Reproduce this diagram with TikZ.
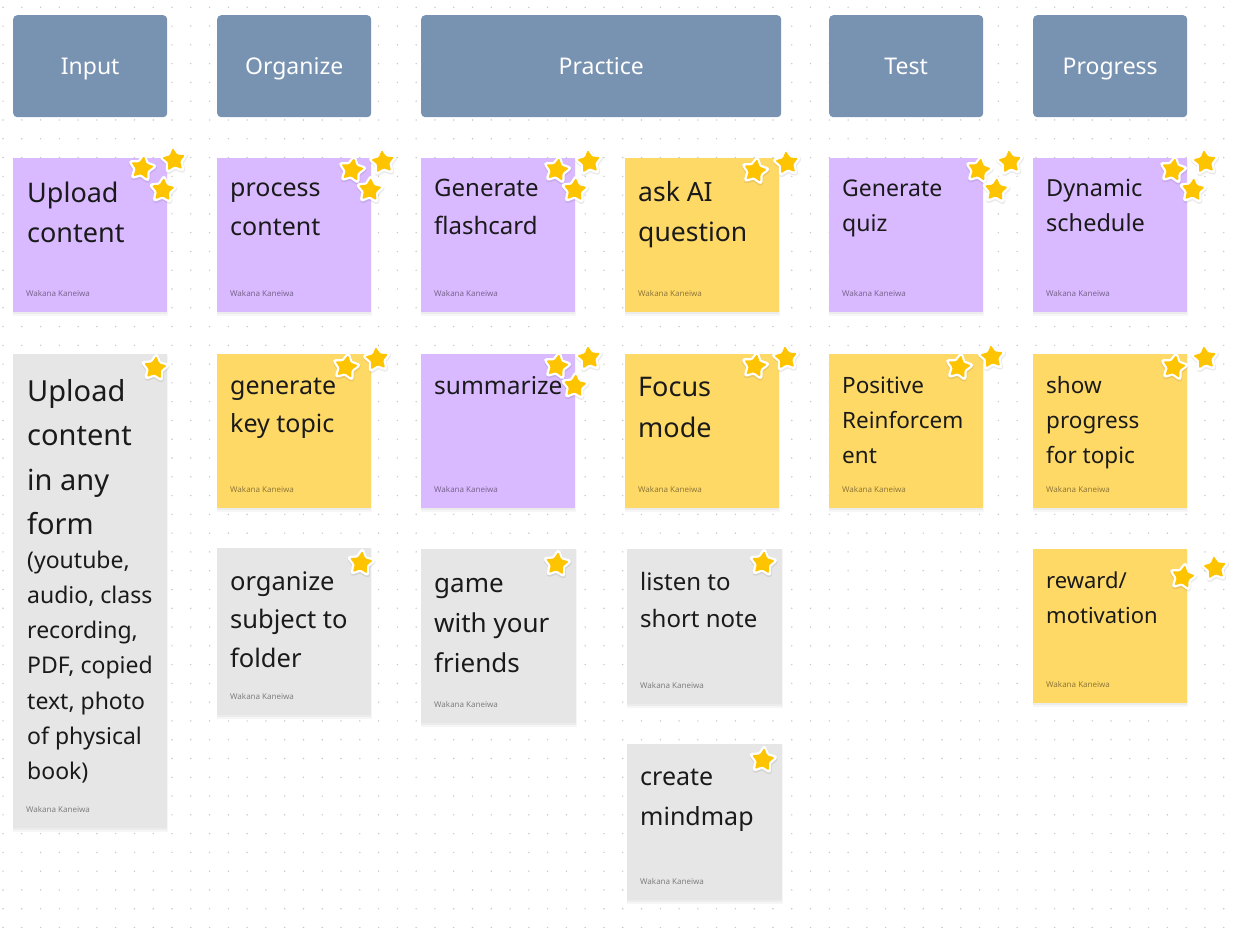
\documentclass[tikz,border=0pt]{standalone}
\usepackage{fontspec}
\setmainfont{Noto Sans}
\definecolor{hdr}{RGB}{120,146,178}
\definecolor{vio}{RGB}{217,185,255}
\definecolor{yel}{RGB}{255,217,102}
\definecolor{gry}{RGB}{230,230,230}
\definecolor{gold}{RGB}{255,196,0}
\definecolor{dotc}{RGB}{200,200,200}
\definecolor{ink}{RGB}{26,26,26}
\tikzset{
 hdrbox/.style={fill=hdr, rounded corners=4pt, text=white, font=\fontsize{23}{27}\selectfont, inner sep=0pt, anchor=north west, minimum height=102pt, text height=16pt, text depth=0pt},
 stickybox/.style={inner sep=0pt, anchor=north west, draw=none},
 author/.style={font=\fontsize{8}{10}\selectfont, text=black, text opacity=0.45, inner sep=0pt, anchor=base west},
 stxt/.style={inner sep=0pt, anchor=base west, text=ink},
 starhalo/.style={draw=white, fill=white, line width=4.5pt, line join=round},
 starshade/.style={draw=black, fill=black, opacity=0.08, line width=5.5pt, line join=round},
 starfill/.style={fill=gold, rounded corners=1.2pt},
}
\newcommand{\starpath}{(-90:12) -- (-54:6.3) -- (-18:12) -- (18:6.3) -- (54:12) -- (90:6.3) -- (126:12) -- (162:6.3) -- (198:12) -- (234:6.3) -- cycle}
\newcommand{\starat}[3]{%
 \begin{scope}[shift={(#1,#2)}, rotate=#3]
  \path[starshade, shift={(0.4,1.2)}] \starpath;
  \path[starhalo] \starpath;
  \path[starfill] \starpath;
 \end{scope}
}
\newcommand{\stk}[6]{%
 \fill[black, opacity=0.035] (#2-0.5,#3+1) rectangle ++(#4+1,#5+2.5);
 \fill[black, opacity=0.04] (#2,#3+1) rectangle ++(#4,#5+1);
 \node[stickybox, fill=#6, minimum width=#4pt, minimum height=#5pt] (#1) at (#2,#3) {};
 \node[author] (#1a) at ([xshift=13pt,yshift=15.5pt]#1.south west) {Wakana Kaneiwa};
}
\newcommand{\stt}[6]{%
 \node[stxt, font=\fontsize{#4}{#5}\selectfont] (#1) at (#2,#3) {\parbox[t]{150pt}{\raggedright #6}};
}
\begin{document}
\begin{tikzpicture}[x=1pt, y=-1pt]
\useasboundingbox (0,0) rectangle (1240,928);
\fill[white] (0,0) rectangle (1240,928);
% dot grid
\foreach \i in {0,...,65} {
  \foreach \j in {0,...,49} {
    \fill[dotc] (3+\i*18.78, 7.3+\j*18.78) circle (0.8);
  }
}
% headers
\node[hdrbox, minimum width=154pt] (hInput) at (13,15) {Input};
\node[hdrbox, minimum width=154pt] (hOrganize) at (217,15) {Organize};
\node[hdrbox, minimum width=360pt] (hPractice) at (421,15) {Practice};
\node[hdrbox, minimum width=154pt] (hTest) at (829,15) {Test};
\node[hdrbox, minimum width=154pt] (hProgress) at (1033,15) {Progress};
% row 1
\stk{s11}{13}{158}{154}{154}{vio}
\stk{s12}{217}{158}{154}{154}{vio}
\stk{s13}{421}{158}{154}{154}{vio}
\stk{s14}{625}{158}{154}{154}{yel}
\stk{s15}{829}{158}{154}{154}{vio}
\stk{s16}{1033}{158}{154}{154}{vio}
% row 2
\stk{s21}{13}{354}{154}{474}{gry}
\stk{s22}{217}{354}{154}{154}{yel}
\stk{s23}{421}{354}{154}{154}{vio}
\stk{s24}{625}{354}{154}{154}{yel}
\stk{s25}{829}{354}{154}{154}{yel}
\stk{s26}{1033}{354}{154}{154}{yel}
% row 3
\stk{s32}{217}{548}{154}{167}{gry}
\stk{s33}{421}{549}{155}{174}{gry}
\stk{s34}{627}{549}{155}{155}{gry}
\stk{s36}{1033}{549}{154}{154}{yel}
% row 4
\stk{s44}{627}{744}{155}{156}{gry}
% texts
\stt{t11}{27}{203}{27}{40}{Upload\\content}
\stt{t12}{230}{197}{25}{39}{process\\content}
\stt{t13}{434}{197}{24}{38}{Generate\\flashcard}
\stt{t14}{638}{202}{26.5}{40}{ask AI\\question}
\stt{t15}{842}{197}{23}{35}{Generate\\quiz}
\stt{t16}{1046}{197}{23.5}{35}{Dynamic\\schedule}
\stt{t21}{27}{401}{29}{44.5}{Upload\\content\\in any\\form}
\stt{t21b}{27}{568}{23}{35.3}{(youtube,\\audio, class\\recording,\\PDF, copied\\text, photo\\of physical\\book)}
\stt{t22}{230}{394}{25}{38}{generate\\key topic}
\stt{t23}{434}{394}{24.5}{38}{summarize}
\stt{t24}{638}{396}{27}{41}{Focus\\mode}
\stt{t25}{842}{393}{22.5}{35}{Positive\\Reinforcem\\ent}
\stt{t26}{1046}{393}{22.5}{35}{show\\progress\\for topic}
\stt{t32}{230}{590}{25.5}{38.5}{organize\\subject to\\folder}
\stt{t33}{434}{592}{26}{40}{game\\with your\\friends}
\stt{t34}{640}{590}{24}{37}{listen to\\short note}
\stt{t36}{1046}{588}{22}{35}{reward/\\motivation}
\stt{t44}{640}{785}{25}{40}{create\\mindmap}
% stars
\starat{142}{168}{-10}
\starat{174}{160}{6}
\starat{163}{190}{-4}
\starat{352}{170}{-10}
\starat{383}{162}{6}
\starat{370}{190}{-4}
\starat{557}{170}{-10}
\starat{589}{162}{6}
\starat{575}{190}{-4}
\starat{755}{171}{-10}
\starat{787}{163}{6}
\starat{979}{170}{-10}
\starat{1010}{162}{6}
\starat{996}{190}{-4}
\starat{1173}{170}{-10}
\starat{1205}{162}{6}
\starat{1193}{190}{-4}
\starat{155}{368}{-6}
\starat{346}{367}{-10}
\starat{377}{359}{6}
\starat{557}{366}{-10}
\starat{589}{358}{6}
\starat{575}{386}{-4}
\starat{755}{366}{-10}
\starat{786}{358}{6}
\starat{959}{367}{-10}
\starat{992}{357}{6}
\starat{1174}{367}{-10}
\starat{1205}{358}{6}
\starat{361}{563}{-6}
\starat{557}{564}{-6}
\starat{763}{563}{-6}
\starat{763}{760}{-6}
\starat{1183}{577}{-10}
\starat{1215}{568}{6}
\end{tikzpicture}
\end{document}
